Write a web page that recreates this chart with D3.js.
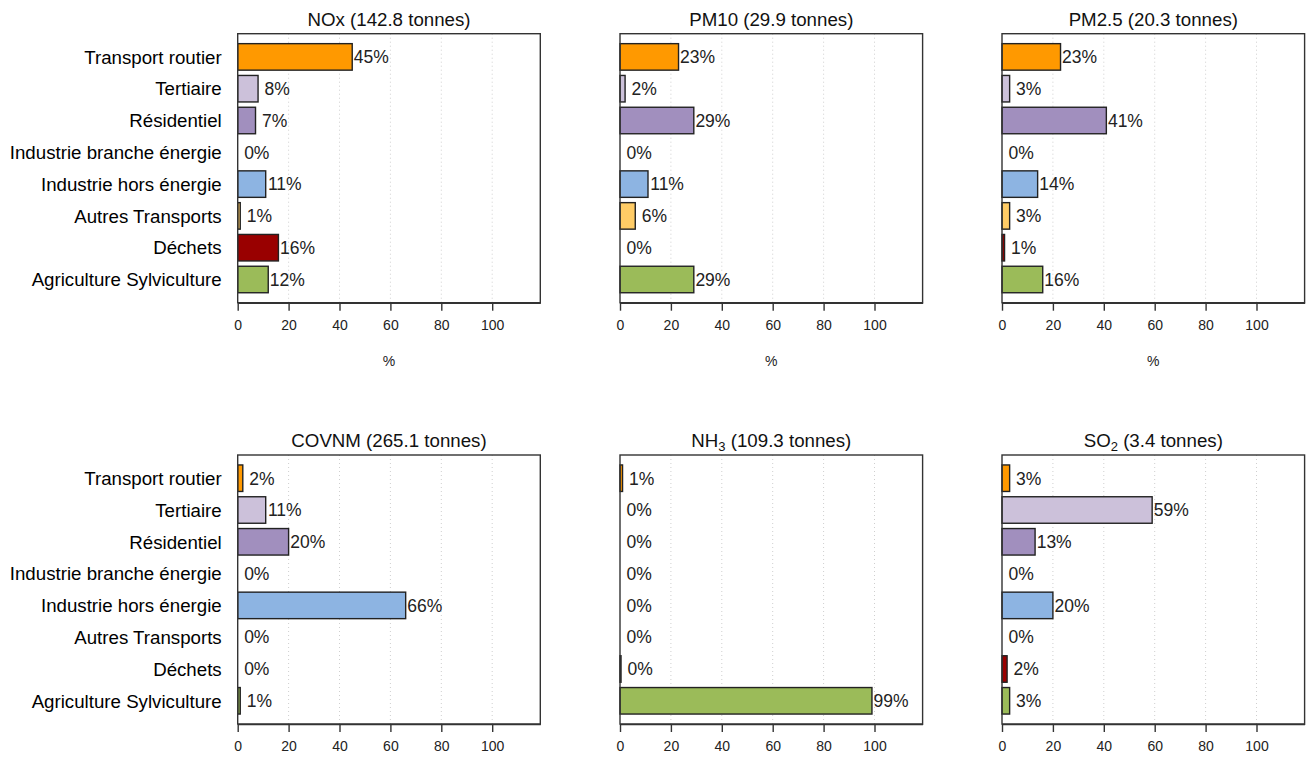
<!DOCTYPE html>
<html>
<head>
<meta charset="utf-8">
<script src="https://cdn.jsdelivr.net/npm/d3@7"></script>
<style>
  html, body { margin: 0; padding: 0; background: #fff; }
  svg { display: block; font-family: "Liberation Sans", Arial, sans-serif; }
</style>
</head>
<body>
<svg id="chart" width="1309" height="758"></svg>
<script>
// Emission sectors, listed top to bottom
const sectors = [
  "Transport routier",
  "Tertiaire",
  "Résidentiel",
  "Industrie branche énergie",
  "Industrie hors énergie",
  "Autres Transports",
  "Déchets",
  "Agriculture Sylviculture"
];

const sectorColors = [
  "#ff9900", "#ccc1da", "#a18fbe", "#7f7f7f",
  "#8db4e2", "#ffcc66", "#990000", "#9bbb59"
];

// Pollutant panels: name, subscript, total tonnes
const pollutants = ["NOx", "PM10", "PM2.5", "COVNM", "NH", "SO"];
const subscripts = ["", "", "", "", "3", "2"];
const totals = ["142.8", "29.9", "20.3", "265.1", "109.3", "3.4"];

// Share of each sector (%) per pollutant
const shareNOx   = [45, 8, 7, 0, 11, 1, 16, 12];
const sharePM10  = [23, 2, 29, 0, 11, 6, 0, 29];
const sharePM25  = [23, 3, 41, 0, 14, 3, 1, 16];
const shareCOVNM = [2, 11, 20, 0, 66, 0, 0, 1];
const shareNH3   = [1, 0, 0, 0, 0, 0, 0.4, 99];
const shareSO2   = [3, 59, 13, 0, 20, 0, 2, 3];
const shares = [shareNOx, sharePM10, sharePM25, shareCOVNM, shareNH3, shareSO2];

const xTicks = [0, 20, 40, 60, 80, 100];

// Panel geometry
const panelLefts = [237.7, 620, 1002];
const panelTops = [33.7, 455];
const panelW = 302.6;
const panelH = 269;

const svg = d3.select("#chart");

const x = d3.scaleLinear().domain([0, 118.9]).range([0, panelW]);
const y = d3.scaleBand()
  .domain(sectors)
  .range([0, panelH])
  .paddingInner(1 / 6)
  .paddingOuter(0.313);

const fmt = v => d3.format(".0f")(v) + "%";

pollutants.forEach((name, i) => {
  const col = i % 3, row = Math.floor(i / 3);
  const g = svg.append("g")
    .attr("transform", `translate(${panelLefts[col]},${panelTops[row]})`);
  const data = sectors.map((s, k) => ({ sector: s, value: shares[i][k], color: sectorColors[k] }));

  // dotted vertical grid
  g.selectAll("line.grid")
    .data(xTicks.filter(t => t > 0))
    .join("line")
    .attr("class", "grid")
    .attr("x1", d => x(d)).attr("x2", d => x(d))
    .attr("y1", 0).attr("y2", panelH)
    .attr("stroke", "#cfcfcf")
    .attr("stroke-width", 1)
    .attr("stroke-dasharray", "1,3");

  // bars
  g.selectAll("rect.bar")
    .data(data.filter(d => d.value > 0))
    .join("rect")
    .attr("class", "bar")
    .attr("x", x(0))
    .attr("y", d => y(d.sector))
    .attr("width", d => x(d.value) - x(0))
    .attr("height", y.bandwidth())
    .attr("fill", d => d.color)
    .attr("stroke", "#222")
    .attr("stroke-width", 1.4);

  // value labels
  g.selectAll("text.val")
    .data(data)
    .join("text")
    .attr("class", "val")
    .attr("x", d => x(d.value + 7.5))
    .attr("y", d => y(d.sector) + y.bandwidth() / 2)
    .attr("dy", "0.36em")
    .attr("text-anchor", "middle")
    .attr("font-size", 17.5)
    .attr("fill", "#222")
    .text(d => fmt(d.value));

  // frame
  g.append("rect")
    .attr("x", 0).attr("y", 0)
    .attr("width", panelW).attr("height", panelH)
    .attr("fill", "none")
    .attr("stroke", "#333")
    .attr("stroke-width", 1.4);

  // bottom axis
  const axis = g.append("g")
    .attr("transform", `translate(0,${panelH})`)
    .call(d3.axisBottom(x).tickValues(xTicks).tickSize(8).tickPadding(9).tickSizeOuter(0));
  axis.select(".domain").attr("stroke", "#333").attr("stroke-width", 1.4);
  axis.selectAll(".tick line").attr("stroke", "#333").attr("stroke-width", 1.4);
  axis.selectAll(".tick text")
    .attr("font-size", 14)
    .attr("font-family", "'Liberation Sans', Arial, sans-serif")
    .attr("fill", "#222");

  // axis unit, shown under the upper row
  if (row === 0) {
    g.append("text")
      .attr("x", panelW / 2).attr("y", panelH + 63)
      .attr("text-anchor", "middle")
      .attr("font-size", 14)
      .attr("fill", "#222")
      .text("%");
  }

  // title with optional subscript
  const title = g.append("text")
    .attr("x", panelW / 2).attr("y", -8)
    .attr("text-anchor", "middle")
    .attr("font-size", 18.7)
    .attr("fill", "#111");
  title.append("tspan").text(name);
  if (subscripts[i]) {
    title.append("tspan").attr("font-size", 13).attr("dy", 4).text(subscripts[i]);
    title.append("tspan").attr("dy", -4).text(` (${totals[i]} tonnes)`);
  } else {
    title.append("tspan").text(` (${totals[i]} tonnes)`);
  }

  // sector labels on the left column
  if (col === 0) {
    g.selectAll("text.cat")
      .data(sectors)
      .join("text")
      .attr("class", "cat")
      .attr("x", -16)
      .attr("y", d => y(d) + y.bandwidth() / 2)
      .attr("dy", "0.36em")
      .attr("text-anchor", "end")
      .attr("font-size", 18.7)
      .attr("fill", "#000")
      .text(d => d);
  }
});
</script>
</body>
</html>
